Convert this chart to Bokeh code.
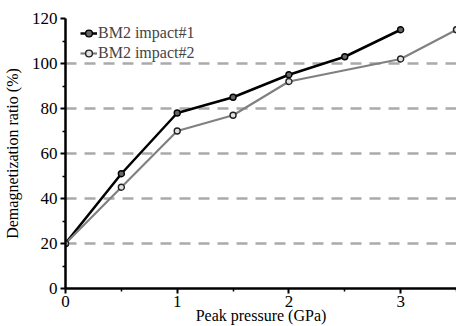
from bokeh.plotting import figure
from bokeh.models import Legend, LegendItem, FixedTicker, Range1d
from bokeh.embed import file_html
from bokeh.resources import INLINE

x1 = [0, 0.5, 1, 1.5, 2, 2.5, 3]
y1 = [20, 51, 78, 85, 95, 103, 115]
x2 = [0, 0.5, 1, 1.5, 2, 3, 3.5]
y2 = [20, 45, 70, 77, 92, 102, 115]
x_ticks = [0, 1, 2, 3]
x_minor = [0.5, 1.5, 2.5, 3.5]
y_ticks = [0, 20, 40, 60, 80, 100, 120]
y_minor = [10, 30, 50, 70, 90, 110]
grid_vals = [20, 40, 60, 80, 100]

FONT = "Liberation Serif"

p = figure(width=452, height=318, output_backend="svg", toolbar_location=None,
           x_range=Range1d(0, 3.5), y_range=Range1d(0, 120),
           frame_width=391, frame_height=270,
           min_border_left=64, min_border_top=18, min_border_right=0, min_border_bottom=20)
p.outline_line_color = None
p.background_fill_color = "white"

p.xgrid.visible = False
p.ygrid.ticker = FixedTicker(ticks=grid_vals)
p.ygrid.grid_line_color = "#aaaaaa"
p.ygrid.grid_line_width = 2.5
p.ygrid.grid_line_dash = "11 8"

p.xaxis[0].ticker = FixedTicker(ticks=x_ticks, minor_ticks=x_minor)
p.yaxis[0].ticker = FixedTicker(ticks=y_ticks, minor_ticks=y_minor)
p.xaxis[0].axis_label = "Peak pressure (GPa)"
p.yaxis[0].axis_label = "Demagnetization ratio (%)"

for ax in (p.xaxis[0], p.yaxis[0]):
    ax.axis_line_width = 2.5
    ax.axis_line_color = "black"
    ax.major_tick_line_width = 2
    ax.minor_tick_line_width = 1.5
    ax.major_tick_line_color = "black"
    ax.minor_tick_line_color = "black"
    ax.major_label_text_font = FONT
    ax.major_label_text_font_size = "17px"
    ax.major_label_text_color = "black"
    ax.axis_label_text_font = FONT
    ax.axis_label_text_font_size = "16px"
    ax.axis_label_text_font_style = "normal"
    ax.axis_label_text_color = "black"
    ax.major_tick_out = 5
    ax.major_tick_in = 0
    ax.minor_tick_out = 3
    ax.minor_tick_in = 0

p.xaxis[0].major_label_standoff = 2
p.xaxis[0].axis_label_standoff = -3
p.yaxis[0].major_label_standoff = 3
p.yaxis[0].axis_label_standoff = 8

l1 = p.line(x1, y1, line_color="black", line_width=2.5)
c1 = p.scatter(x1, y1, size=6, fill_color="#666666", line_color="black", line_width=1.4)
l2 = p.line(x2, y2, line_color="#808080", line_width=2.2)
c2 = p.scatter(x2, y2, size=6, fill_color="#e0e0e0", line_color="#222222", line_width=1.4)

legend = Legend(items=[LegendItem(label="BM2 impact#1", renderers=[l1, c1]),
                       LegendItem(label="BM2 impact#2", renderers=[l2, c2])],
                location=(15, 225), label_text_font=FONT, label_text_font_size="16px",
                background_fill_alpha=0, border_line_color=None,
                glyph_width=17, glyph_height=20, spacing=-3, padding=0, margin=0,
                label_standoff=1)
p.add_layout(legend)

open("out.html", "w").write(file_html(p, INLINE))
